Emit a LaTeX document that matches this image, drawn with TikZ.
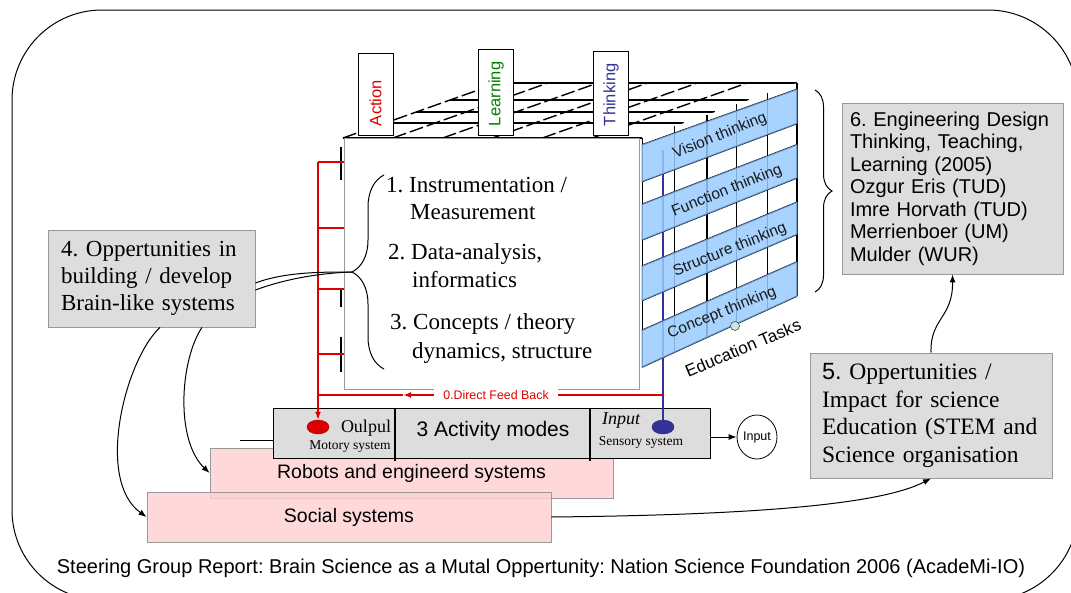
\documentclass[tikz,border=0pt]{standalone}
\usepackage{fontspec}
\setmainfont{Liberation Serif}
\setsansfont{Liberation Sans}
\usetikzlibrary{calc,arrows.meta,shapes.geometric,decorations.pathreplacing}

\definecolor{boxgrey}{HTML}{DDDDDD}
\definecolor{edgegrey}{HTML}{999999}
\definecolor{bandblue}{HTML}{99CCFF}
\definecolor{bandedge}{HTML}{5A8CC8}
\definecolor{actred}{HTML}{DD0000}
\definecolor{learngreen}{HTML}{008000}
\definecolor{thinkblue}{HTML}{333399}
\definecolor{pinkfill}{HTML}{FFD0D0}
\definecolor{tealdot}{HTML}{C8E6E2}
\newcommand\fsz[2]{\fontsize{#1}{#2}\selectfont}
\frenchspacing

\begin{document}
\begin{tikzpicture}[x=1pt, y=-1pt,
  greybox/.style={draw=edgegrey, fill=boxgrey, line width=0.8pt, align=left, inner ysep=4pt},
  pinkbox/.style={draw=edgegrey, fill=pinkfill, fill opacity=0.8, text opacity=1, line width=0.8pt,
    minimum height=50pt, font=\sffamily\fsz{19.5}{22}},
  colbox/.style={draw=black, fill=white, line width=0.8pt, rotate=90, minimum height=35pt,
    inner xsep=9pt, align=left, font=\sffamily\fsz{16.5}{18}},
  bandfill/.style={fill=bandblue, fill opacity=0.85, draw=bandedge, line width=0.6pt},
  bandtext/.style={rotate=22, inner sep=0.5pt, font=\sffamily\fsz{15.5}{17}, text=black!90},
  redline/.style={draw=actred, line width=2.2pt},
  blueline/.style={draw=thinkblue, line width=2.2pt},
  conn/.style={draw=black, line width=1pt},
  arrowend/.style={-{Latex[length=8pt,width=6pt]}},
  listitem/.style={anchor=base west, inner sep=0pt, font=\fsz{23}{27}},
  gridline/.style={line width=1.4pt},
  dot/.style={ellipse, minimum width=22pt, minimum height=14pt, inner sep=0pt},
]
\useasboundingbox (0,0) rectangle (1071,592);

% outer frame
\draw[line width=1pt, rounded corners=90pt] (12,10) rectangle (1078,600);

% ---------- application layers and activity bar ----------
\node[pinkbox, minimum width=403pt] (robots) at (411.5,473) {Robots and engineerd systems};
\node[pinkbox, minimum width=404pt] (social) at (349,517) {Social systems};

\node[draw=black, fill=boxgrey, line width=1pt, minimum width=437pt, minimum height=50pt] (bar) at (491.5,433) {};
\draw[line width=1.2pt] (395,408) -- (395,461);
\draw[line width=1.2pt] (590,408) -- (590,461);
\node[font=\sffamily\fsz{21}{24}] (modes) at (493,431) {3 Activity modes};
\node[font=\fsz{18}{20}] (outlbl) at (366,428) {Oulpul};
\node[font=\fsz{13.5}{15}] (motory) at (350,447) {Motory system};
\node[font=\itshape\fsz{18}{20}] (inlbl) at (621,421) {Input};
\node[font=\fsz{13.5}{15}] (sensory) at (641,442) {Sensory system};
\node[dot, fill=actred, draw=actred!70!black] (outdot) at (318,427) {};
\node[dot, fill=thinkblue, draw=thinkblue!70!black] (indot) at (663,427) {};

\node[ellipse, draw=black, line width=0.8pt, minimum width=40pt, minimum height=44pt, inner sep=0pt,
  font=\sffamily\fsz{12.5}{14}] (inbox) at (757,437) {Input};
\draw[conn, arrowend] (bar.east |- inbox) -- (inbox.west);
\coordinate (stub) at (240,440);
\draw[conn] (stub) -- (bar.west |- stub);

% ---------- cube: top face ----------
\coordinate (FL) at (343,138);
\coordinate (BL) at (498,83);
\coordinate (FT) at (642,138);
\coordinate (BT) at (797,83);
\coordinate (FB) at (642,367);
\coordinate (BB) at (797,296);

\foreach \t in {0,0.27,0.47,0.69,1}
  \draw[gridline] ($(FL)!\t!(BL)$) -- ($(FT)!\t!(BT)$);
\foreach \s in {0,0.1667,0.3333,0.5,0.6667,0.8333}
  \draw[gridline, dash pattern=on 14pt off 4pt] ($(FL)!\s!(FT)$) -- ($(BL)!\s!(BT)$);

\node[colbox, text=actred, text width=64pt] (colA) at (375.5,94) {Action};
\node[colbox, text=learngreen, text width=68pt] (colL) at (496,92) {Learning};
\node[colbox, text=thinkblue, text width=66pt] (colT) at (611,93) {Thinking};

% ---------- cube: right face ----------
\fill[white] (FT) -- (BT) -- (BB) -- (FB) -- cycle;
\foreach \u in {0.21,0.42,0.61,0.81}
  \draw[line width=1.6pt] ($(FT)!\u!(BT)$) -- ($(FB)!\u!(BB)$);
\foreach \v in {0.03,0.19,0.29,0.445,0.56,0.71,0.84}
  \draw[line width=1.5pt] ($(FT)!\v!(FB)$) -- ($(BT)!\v!(BB)$);
\draw[line width=1pt] (FT) -- (FB);
\draw[line width=2pt] (BT) -- (BB);
\draw[line width=1.5pt] (FB) -- (BB);

% sensory line down to the input
\coordinate (btop) at (663,150);
\draw[blueline] (btop) -- (indot.north);

\foreach \a/\b in {0.03/0.19,0.29/0.445,0.56/0.71,0.84/1}
  \filldraw[bandfill] ($(FT)!\a!(FB)$) -- ($(BT)!\a!(BB)$) -- ($(BT)!\b!(BB)$) -- ($(FT)!\b!(FB)$) -- cycle;

\node[bandtext] (vis) at (720,136) {Vision thinking};
\node[bandtext] (fun) at (727,191) {Function thinking};
\node[bandtext] (str) at (730,250) {Structure thinking};
\node[bandtext] (con) at (722,313) {Concept thinking};
\node[circle, draw=black!70, fill=tealdot, minimum size=9pt, inner sep=0pt, line width=0.6pt] (edudot) at (735,326) {};
\node[rotate=23, inner sep=0.5pt, font=\sffamily\fsz{17}{19}] (edutasks) at (743,348) {Education Tasks};

% ---------- cube: front face ----------
\draw[line width=1.5pt] (341,147) -- (341,180);
\draw[line width=1.5pt] (341,290) -- (341,307);
\draw[line width=1.5pt] (341,337) -- (341,372);
\node[draw=edgegrey, fill=white, line width=0.8pt, minimum width=295pt, minimum height=251pt] (front) at (491.5,263.5) {};
\node[listitem] (l1a) at (386,192) {1. Instrumentation /};
\node[listitem] (l1b) at (410,219) {Measurement};
\node[listitem] (l2a) at (388,259) {2. Data-analysis,};
\node[listitem] (l2b) at (412,287) {informatics};
\node[listitem] (l3a) at (390,329) {3. Concepts / theory};
\node[listitem] (l3b) at (412,358) {dynamics, structure};
\draw[decorate, decoration={brace, amplitude=32pt}, line width=1pt] (384,369) -- (384,175);
\coordinate (btip) at (352,272);

% ---------- motor feedback ----------
\coordinate (rtop) at (318,162);
\coordinate (fbL) at (318,395);
\coordinate (fbR) at (663,395);
\coordinate (fbarrow) at (403,395);
\draw[redline, arrowend] (rtop) -- (outdot.north);
\foreach \y in {162,228,289,354}
  \draw[redline] (318,\y) -- (front.west |- 318,\y);
\node[font=\sffamily\fsz{12.4}{14}, text=actred, fill=white, inner xsep=9pt, inner ysep=1pt] (fb) at (496,395) {0.Direct Feed Back};
\draw[redline] (fbR) -- (fb.east);
\draw[redline, arrowend] (fb.west) -- (fbarrow);
\draw[redline] (fbarrow) -- (fbL);

% ---------- text boxes ----------
\node[greybox, font=\fsz{23}{27}, inner xsep=13pt, text width=181pt, minimum height=97pt] (opp4) at (151.5,278.5)
  {4. Oppertunities in\\building / develop\\Brain-like systems};
\node[greybox, font=\fsz{23.5}{27.7}, inner xsep=12pt, text width=218pt, minimum height=125pt] (opp5) at (931,415.5)
  {{\sffamily 5.} Oppertunities /\\Impact for science\\Education (STEM and\\Science organisation};
\node[greybox, font=\sffamily\fsz{20}{22.5}, inner xsep=8pt, text width=205pt, minimum height=171pt] (edb) at (952.5,188.5)
  {6. Engineering Design\\Thinking, Teaching,\\Learning (2005)\\Ozgur Eris (TUD)\\Imre Horvath (TUD)\\Merrienboer (UM)\\Mulder (WUR)};

\draw[decorate, decoration={brace, amplitude=17pt}, line width=1pt] (815,90) -- (815,292);

% ---------- connectors ----------
\draw[conn] ([yshift=-4.5pt]opp4.east) .. controls (285,272) and (320,272) .. (btip);
\draw[conn] ([yshift=-11.5pt]opp4.east) .. controls (285,279) and (320,273) .. (btip);
\draw[conn, arrowend] ([xshift=8.5pt]opp4.south) .. controls (125,360) and (95,480) .. (social.west);
\draw[conn, arrowend] ([xshift=50.5pt]opp4.south) .. controls (180,360) and (175,440) .. (robots.west);
\draw[conn, arrowend] (social.east) .. controls (750,515) and (880,505) .. (opp5.south);
\draw[conn, arrowend] (opp5.north) .. controls (930,318) and (953,318) .. (edb.south);

\node[font=\sffamily\fsz{20}{22}] (caption) at (541,568)
  {Steering Group Report: Brain Science as a Mutal Oppertunity: Nation Science Foundation 2006 (AcadeMi-IO)};
\end{tikzpicture}
\end{document}
